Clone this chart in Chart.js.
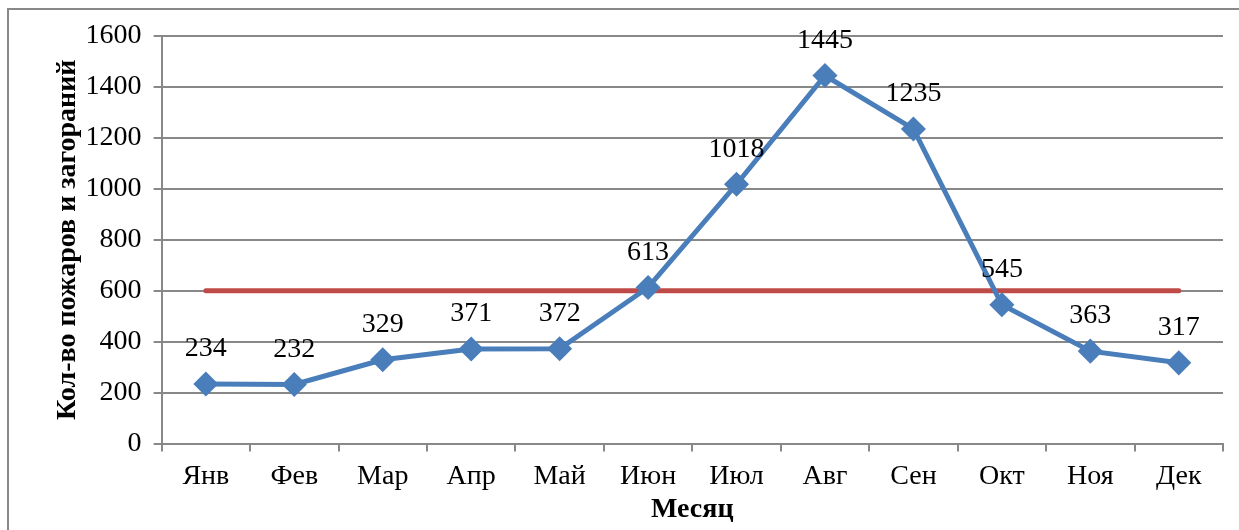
<!DOCTYPE html>
<html>
<head>
<meta charset="utf-8">
<script src="https://cdn.jsdelivr.net/npm/chart.js@4"></script>
<style>
  html, body { margin: 0; padding: 0; background: #fff; }
  #wrap { width: 1239px; height: 530px; position: relative; }
</style>
</head>
<body>
<div id="wrap"><canvas id="fireChart" width="1239" height="530"></canvas></div>
<script>
const months = ["Янв", "Фев", "Мар", "Апр", "Май", "Июн", "Июл", "Авг", "Сен", "Окт", "Ноя", "Дек"];
const fires = [234, 232, 329, 371, 372, 613, 1018, 1445, 1235, 545, 363, 317];
const average = [600, 600, 600, 600, 600, 600, 600, 600, 600, 600, 600, 600];

const serif = "'Liberation Serif', 'Times New Roman', serif";

// outer frame around the whole chart
const frame = {
  id: "frame",
  beforeDraw(chart) {
    const ctx = chart.ctx;
    ctx.save();
    ctx.fillStyle = "#fff";
    ctx.fillRect(0, 0, chart.width, chart.height);
    ctx.strokeStyle = "#888";
    ctx.lineWidth = 2;
    ctx.strokeRect(8, 9, chart.width - 2, chart.height + 10);
    ctx.restore();
  },
};

// value labels above the blue points
const valueLabels = {
  id: "valueLabels",
  afterDatasetsDraw(chart) {
    const ctx = chart.ctx;
    const meta = chart.getDatasetMeta(0);
    ctx.save();
    ctx.font = "28px " + serif;
    ctx.fillStyle = "#000";
    ctx.textAlign = "center";
    ctx.textBaseline = "middle";
    meta.data.forEach((pt, i) => {
      ctx.fillText(String(fires[i]), pt.x, pt.y - 35);
    });
    ctx.restore();
  },
};

new Chart(document.getElementById("fireChart"), {
  type: "line",
  data: {
    labels: months,
    datasets: [
      {
        label: "Пожары",
        data: fires,
        borderColor: "#4A7EBB",
        backgroundColor: "#4A7EBB",
        borderWidth: 5,
        pointStyle: "rectRot",
        pointRadius: 9,
        pointHoverRadius: 9,
        tension: 0,
      },
      {
        label: "Среднее",
        data: average,
        borderColor: "#BE4B48",
        borderWidth: 5,
        pointRadius: 0,
        borderCapStyle: "round",
      },
    ],
  },
  plugins: [frame, valueLabels],
  options: {
    responsive: false,
    animation: false,
    layout: { padding: { left: 61, right: 16, top: 36, bottom: 13 } },
    plugins: {
      legend: { display: false },
      tooltip: { enabled: false },
    },
    scales: {
      x: {
        offset: true,
        grid: {
          offset: true,
          drawOnChartArea: false,
          color: "#888",
          lineWidth: 2,
          tickLength: 8,
        },
        border: { color: "#888", width: 2 },
        ticks: { color: "#000", font: { family: serif, size: 28, lineHeight: 1 }, padding: 11 },
        title: {
          display: true,
          text: "Месяц",
          color: "#000",
          font: { family: serif, size: 28, weight: "bold", lineHeight: 0.55 },
          padding: { top: 0, bottom: 0 },
        },
      },
      y: {
        min: 0,
        max: 1600,
        grid: { color: "#888", lineWidth: 2, tickLength: 8 },
        border: { color: "#888", width: 2 },
        ticks: {
          stepSize: 200,
          color: "#000",
          font: { family: serif, size: 28 },
          padding: 12,
          callback: (v) => String(v),
        },
        title: {
          display: true,
          text: "Кол-во пожаров и загораний",
          color: "#000",
          font: { family: serif, size: 28, weight: "bold", lineHeight: 0.45 },
          padding: { top: 0, bottom: 0 },
        },
      },
    },
  },
});
</script>
</body>
</html>
